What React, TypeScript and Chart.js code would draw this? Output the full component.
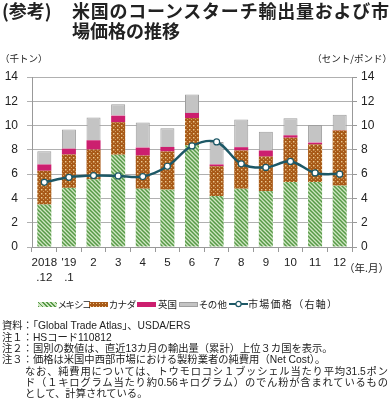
import React, { useEffect, useRef } from "react";
import { Chart, registerables } from "chart.js";
Chart.register(...registerables);

const categories: (string | string[])[] = [["2018", ".12"], ["'19", ".1"], "2", "3", "4", "5", "6", "7", "8", "9", "10", "11", "12"];
const mexico = [3.5, 4.87, 5.57, 7.6, 4.8, 4.72, 8.37, 4.2, 4.8, 4.6, 5.35, 5.35, 5.05];
const canada = [2.78, 2.75, 2.45, 2.68, 2.73, 3.15, 2.25, 2.45, 3.15, 2.85, 3.65, 3.1, 4.55];
const uk = [0.52, 0.48, 0.77, 0.54, 0.66, 0.37, 0.42, 0.15, 0.27, 0.5, 0.2, 0.15, 0.03];
const others = [1.08, 1.57, 1.87, 0.94, 2.06, 1.54, 1.51, 1.85, 2.28, 1.55, 1.4, 1.45, 1.27];
const price = [5.33, 5.74, 5.88, 5.85, 5.8, 6.65, 8.32, 8.65, 6.85, 6.55, 7.05, 6.1, 6.0];
const yTicks = [0, 2, 4, 6, 8, 10, 12, 14];

const legendItems = ["メキシコ", "カナダ", "英国", "その他", "市場価格（右軸）"];

const JP = '"Noto Sans CJK JP", "Noto Sans", sans-serif';
const NUM = '"Liberation Sans", Arial, "Noto Sans CJK JP", sans-serif';

function makeMexicoPattern(): CanvasPattern | string {
  const c = document.createElement("canvas");
  c.width = 4; c.height = 4;
  const g = c.getContext("2d");
  if (!g) return "#9ccb88";
  g.fillStyle = "#cfe6c2";
  g.fillRect(0, 0, 4, 4);
  g.strokeStyle = "#579a47";
  g.lineWidth = 1.5;
  g.beginPath();
  g.moveTo(-1, -1); g.lineTo(5, 5);
  g.moveTo(-1, 3); g.lineTo(1, 5);
  g.moveTo(3, -1); g.lineTo(5, 1);
  g.stroke();
  return g.createPattern(c, "repeat") || "#9ccb88";
}

function makeCanadaPattern(): CanvasPattern | string {
  const c = document.createElement("canvas");
  c.width = 4; c.height = 4;
  const g = c.getContext("2d");
  if (!g) return "#a85c1c";
  g.fillStyle = "#a85a18";
  g.fillRect(0, 0, 4, 4);
  g.fillStyle = "#eccb94";
  g.fillRect(1, 1, 1.4, 1.4);
  g.fillStyle = "rgba(236,203,148,0.6)";
  g.fillRect(3, 3, 1, 1);
  return g.createPattern(c, "repeat") || "#a85c1c";
}

function ChartCanvas() {
  const ref = useRef<HTMLCanvasElement | null>(null);
  useEffect(() => {
    if (!ref.current) return;
    const tickFont = { family: NUM, size: 12 };
    const chart = new Chart(ref.current, {
      type: "bar",
      data: {
        labels: categories,
        datasets: [
          {
            type: "line" as const,
            label: "市場価格（右軸）",
            data: price,
            yAxisID: "y1",
            borderColor: "#1d5866",
            borderWidth: 2.5,
            backgroundColor: "#ffffff",
            pointBackgroundColor: "#ffffff",
            pointBorderColor: "#1d5866",
            pointBorderWidth: 1.2,
            pointRadius: 3,
            tension: 0.35,
            order: 0,
          },
          { label: "メキシコ", data: mexico, backgroundColor: makeMexicoPattern() as any, stack: "s", order: 1, yAxisID: "y" },
          { label: "カナダ", data: canada, backgroundColor: makeCanadaPattern() as any, stack: "s", order: 1, yAxisID: "y" },
          { label: "英国", data: uk, backgroundColor: "#cc1f6f", stack: "s", order: 1, yAxisID: "y" },
          { label: "その他", data: others, backgroundColor: "#c4c4c4", borderColor: "#9e9e9e", borderWidth: 1, stack: "s", order: 1, yAxisID: "y" },
        ] as any,
      },
      options: {
        responsive: false,
        animation: false,
        datasets: { bar: { barPercentage: 0.57, categoryPercentage: 1 } } as any,
        layout: { padding: { top: 77, bottom: 127, left: 0, right: 0 } },
        plugins: { legend: { display: false }, tooltip: { enabled: false } },
        scales: {
          x: {
            stacked: true,
            offset: true,
            grid: { display: true, drawOnChartArea: false, drawTicks: true, tickLength: 5, color: "#999999", offset: true },
            border: { color: "#999999" },
            ticks: { font: { family: NUM, size: 11.5, lineHeight: 1.35 }, color: "#222", padding: 3, maxRotation: 0, autoSkip: false },
            afterFit: (s: any) => { s.height = 40; },
          },
          y: {
            stacked: true,
            min: 0,
            max: 14,
            afterBuildTicks: (s: any) => { s.ticks = yTicks.map((v) => ({ value: v })); },
            ticks: { font: tickFont, color: "#222", padding: 9 },
            grid: { color: "#b0b0b0", tickLength: 5 },
            border: { color: "#999999" },
            afterFit: (s: any) => { s.width = 32; },
          },
          y1: {
            position: "right",
            min: 0,
            max: 14,
            afterBuildTicks: (s: any) => { s.ticks = yTicks.map((v) => ({ value: v })); },
            ticks: { font: tickFont, color: "#222", padding: 4 },
            grid: { drawOnChartArea: false, tickLength: 5, color: "#999999" },
            border: { color: "#999999" },
            afterFit: (s: any) => { s.width = 40; },
          },
        },
      } as any,
    });
    return () => chart.destroy();
  }, []);
  return <canvas ref={ref} width={392} height={414} style={{ position: "absolute", left: 0, top: 0, width: 392, height: 414 }} />;
}

const swatchStyles: React.CSSProperties[] = [
  { background: "repeating-linear-gradient(45deg, #579a47 0 1.2px, #cfe6c2 1.2px 3px)" },
  { background: "radial-gradient(circle, #eccb94 0.7px, transparent 1px) 0 0/3px 3px, #a85a18" },
  { background: "#cc1f6f" },
  { background: "#c4c4c4", border: "1px solid #9e9e9e", boxSizing: "border-box" },
];
const swatchX = [38, 89, 137, 179, 229];
const textX = [58, 109, 158, 199, 248];
const textW = [30, 26, 19, 28, 89];

const noteLines: { x: number; text: string; w?: number }[] = [
  { x: 2, text: "資料：「Global Trade Atlas」、USDA/ERS" },
  { x: 2, text: "注１：HSコード110812" },
  { x: 2, text: "注２：国別の数値は、直近13カ月の輸出量（累計）上位３カ国を表示。" },
  { x: 2, text: "注３：価格は米国中西部市場における製粉業者の純費用（Net Cost）。" },
  { x: 25, text: "なお、純費用については、トウモロコシ１ブッシェル当たり平均31.5ポン", w: 363 },
  { x: 25, text: "ド（１キログラム当たり約0.56キログラム）のでん粉が含まれているもの", w: 363 },
  { x: 25, text: "として、計算されている。" },
];

export default function App() {
  return (
    <div style={{ position: "fixed", left: 0, top: 0, width: 392, height: 414, background: "#fff", overflow: "hidden", fontFamily: JP, color: "#222" }}>
      <ChartCanvas />
      <div style={{ position: "absolute", left: 2, top: 0, fontSize: 18, fontWeight: 700, lineHeight: "20px", whiteSpace: "nowrap" }}>(参考)</div>
      <div style={{ position: "absolute", left: 72, top: 0, width: 317, fontSize: 18, fontWeight: 700, lineHeight: "20px", whiteSpace: "nowrap", textAlign: "justify", textAlignLast: "justify" as any }}>米国のコーンスターチ輸出量および市</div>
      <div style={{ position: "absolute", left: 72, top: 20, fontSize: 18, fontWeight: 700, lineHeight: "20px", whiteSpace: "nowrap" }}>場価格の推移</div>
      <div style={{ position: "absolute", left: 0, top: 52, fontSize: 9.5, lineHeight: "12px", whiteSpace: "nowrap" }}>（千トン）</div>
      <div style={{ position: "absolute", right: 0, top: 52, fontSize: 9.5, lineHeight: "12px", whiteSpace: "nowrap" }}>（セント/ポンド）</div>
      <div style={{ position: "absolute", left: 344, top: 262, fontSize: 10.5, lineHeight: "12px", whiteSpace: "nowrap" }}>（年.月）</div>
      {legendItems.map((t, i) => (
        <React.Fragment key={t}>
          {i < 4 ? (
            <div style={{ position: "absolute", left: swatchX[i], top: 302, width: 19, height: 5, ...swatchStyles[i] }} />
          ) : (
            <svg style={{ position: "absolute", left: swatchX[i], top: 299 }} width={19} height={10}>
              <line x1={0} y1={5} x2={19} y2={5} stroke="#1d5866" strokeWidth={2} />
              <circle cx={9.5} cy={5} r={2.6} fill="#fff" stroke="#1d5866" strokeWidth={1.2} />
            </svg>
          )}
          <div style={{ position: "absolute", left: textX[i], top: 297, width: textW[i], fontSize: i < 4 ? 9.5 : 10, letterSpacing: i < 2 ? "-0.5px" : "0px", lineHeight: "14px", whiteSpace: "nowrap", textAlign: "justify", textAlignLast: "justify" as any, fontFeatureSettings: i < 4 ? '"palt"' : "normal" }}>{t}</div>
        </React.Fragment>
      ))}
      {noteLines.map((l, i) => (
        <div key={i} style={{ position: "absolute", left: l.x, top: 320.3 + i * 11.3, width: l.w, fontFamily: NUM, fontSize: 10.3, lineHeight: "11.3px", whiteSpace: "nowrap", textAlign: l.w ? "justify" : "left", textAlignLast: (l.w ? "justify" : "auto") as any }}>{l.text}</div>
      ))}
    </div>
  );
}
